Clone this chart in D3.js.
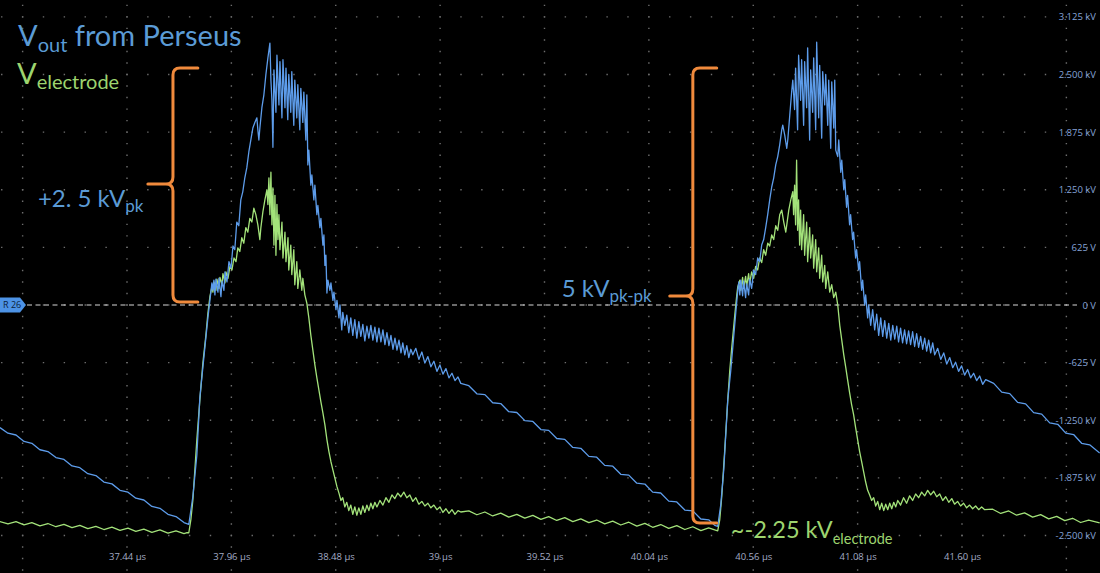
<!DOCTYPE html>
<html><head><meta charset="utf-8">
<script src="https://cdn.jsdelivr.net/npm/d3@7"></script>
<style>
html,body{margin:0;padding:0;background:#000;}
svg{display:block;}
</style></head><body>
<svg id="chart" width="1100" height="573"></svg>
<script>
// ---------- axis ticks ----------
const timeTicks = [37.44, 37.96, 38.48, 39, 39.52, 40.04, 40.56, 41.08, 41.60];
const timeTickLabels = ["37.44 µs","37.96 µs","38.48 µs","39 µs","39.52 µs","40.04 µs","40.56 µs","41.08 µs","41.60 µs"];
const gridTimes = [36.92, 37.44, 37.96, 38.48, 39, 39.52, 40.04, 40.56, 41.08, 41.60, 42.12];
const voltTicks = [3.125, 2.5, 1.875, 1.25, 0.625, 0, -0.625, -1.25, -1.875, -2.5];
const voltTickLabels = ["3.125 kV","2.500 kV","1.875 kV","1.250 kV","625 V","0 V","-625 V","-1.250 kV","-1.875 kV","-2.500 kV"];

// ---------- Vout from Perseus (time µs, kV) ----------
const voutDecay0 = [[36.807,-1.33],[36.847,-1.39],[36.887,-1.41],[36.927,-1.48],[36.966,-1.50],[37.006,-1.57],[37.046,-1.59],[37.086,-1.655],[37.126,-1.675],[37.166,-1.745],[37.205,-1.765],[37.245,-1.83],[37.285,-1.85],[37.325,-1.92],[37.365,-1.94],[37.405,-2.01],[37.445,-2.03],[37.484,-2.095],[37.524,-2.115],[37.564,-2.185],[37.604,-2.205],[37.644,-2.27],[37.684,-2.295],[37.724,-2.36]];
const voutPulse1 = [[37.748,-2.38],[37.768,-2.08],[37.788,-1.63],[37.803,-1.00],[37.828,-0.46],[37.843,-0.14],[37.853,0.05],[37.863,0.24],[37.868,0.16],[37.873,0.27],[37.878,0.11],[37.883,0.28],[37.893,0.14],[37.898,0.29],[37.908,0.09],[37.913,0.26],[37.923,0.16],[37.928,0.36],[37.938,0.25],[37.948,0.47],[37.958,0.40],[37.968,0.64],[37.977,0.60],[37.987,0.90],[37.997,0.86],[38.007,1.14],[38.017,1.23],[38.027,1.38],[38.037,1.49],[38.047,1.66],[38.057,1.79],[38.067,1.92],[38.077,1.98],[38.087,2.03],[38.092,1.90],[38.097,1.79],[38.102,1.92],[38.112,2.14],[38.122,2.28],[38.132,2.50],[38.142,2.68],[38.152,2.84],[38.157,2.44],[38.162,2.22],[38.167,1.71],[38.172,2.55],[38.182,2.09],[38.187,2.71],[38.197,2.17],[38.202,2.64],[38.212,2.03],[38.217,2.66],[38.227,2.14],[38.232,2.57],[38.241,2.01],[38.246,2.50],[38.256,2.09],[38.261,2.53],[38.271,1.95],[38.276,2.44],[38.286,2.03],[38.291,2.39],[38.301,1.90],[38.306,2.35],[38.316,1.98],[38.321,2.31],[38.331,1.79],[38.336,2.28],[38.341,1.52],[38.346,1.68],[38.356,1.30],[38.361,1.41],[38.371,1.14],[38.376,1.30],[38.386,0.98],[38.391,1.08],[38.401,0.84],[38.406,0.94],[38.416,0.65],[38.421,0.76],[38.426,0.43],[38.431,0.54],[38.436,0.13],[38.441,0.27],[38.451,0.16],[38.456,0.24],[38.466,0.05],[38.471,0.14],[38.481,-0.05],[38.486,0.05],[38.496,-0.14],[38.501,0.00],[38.510,-0.27],[38.515,-0.08],[38.525,-0.22],[38.535,-0.11],[38.545,-0.30],[38.555,-0.14],[38.565,-0.33],[38.575,-0.16],[38.585,-0.36],[38.595,-0.18],[38.605,-0.34],[38.615,-0.21],[38.625,-0.39],[38.635,-0.23],[38.645,-0.36],[38.655,-0.22],[38.665,-0.38],[38.675,-0.24],[38.685,-0.40],[38.695,-0.25],[38.705,-0.40],[38.715,-0.27],[38.725,-0.43],[38.735,-0.30],[38.745,-0.44],[38.755,-0.33],[38.765,-0.48],[38.775,-0.36],[38.785,-0.49],[38.795,-0.38],[38.805,-0.52],[38.814,-0.41],[38.824,-0.54],[38.834,-0.44],[38.844,-0.57],[38.854,-0.48],[38.864,-0.54],[38.879,-0.47],[38.894,-0.59],[38.909,-0.51],[38.924,-0.63],[38.939,-0.56],[38.954,-0.67],[38.969,-0.61],[38.984,-0.72],[38.999,-0.65],[39.014,-0.75],[39.029,-0.69],[39.044,-0.79],[39.059,-0.74],[39.074,-0.82],[39.089,-0.78],[39.103,-0.85]];
const voutDecay1 = [[39.143,-0.875],[39.183,-0.963],[39.223,-0.972],[39.262,-1.060],[39.302,-1.069],[39.342,-1.157],[39.382,-1.166],[39.422,-1.254],[39.462,-1.263],[39.502,-1.351],[39.541,-1.360],[39.581,-1.448],[39.621,-1.457],[39.661,-1.545],[39.701,-1.554],[39.741,-1.642],[39.780,-1.651],[39.820,-1.739],[39.860,-1.748],[39.900,-1.836],[39.940,-1.845],[39.980,-1.933],[40.020,-1.942],[40.059,-2.030],[40.099,-2.039],[40.139,-2.127],[40.179,-2.136],[40.219,-2.224],[40.259,-2.233],[40.299,-2.321],[40.338,-2.330]];
const voutPulse2 = [[40.368,-2.39],[40.383,-2.40],[40.398,-2.17],[40.413,-1.79],[40.433,-1.03],[40.448,-0.71],[40.458,-0.46],[40.473,-0.08],[40.483,0.16],[40.488,0.25],[40.493,0.11],[40.498,0.27],[40.507,0.10],[40.512,0.26],[40.522,0.08],[40.527,0.23],[40.537,0.11],[40.542,0.28],[40.552,0.18],[40.562,0.38],[40.572,0.33],[40.582,0.51],[40.592,0.47],[40.602,0.65],[40.612,0.71],[40.622,0.84],[40.632,0.98],[40.642,1.14],[40.652,1.28],[40.662,1.38],[40.672,1.52],[40.682,1.61],[40.692,1.74],[40.702,1.90],[40.707,1.95],[40.717,1.84],[40.727,1.70],[40.732,1.79],[40.742,2.06],[40.752,2.33],[40.757,2.44],[40.766,2.12],[40.771,2.57],[40.781,1.90],[40.786,2.71],[40.796,2.22],[40.801,2.66],[40.811,1.95],[40.816,2.64],[40.826,2.14],[40.831,2.79],[40.841,1.79],[40.846,2.55],[40.856,2.09],[40.861,2.68],[40.871,1.90],[40.876,2.85],[40.886,2.03],[40.891,2.60],[40.901,1.81],[40.906,2.53],[40.916,2.17],[40.921,2.50],[40.931,1.95],[40.936,2.44],[40.946,1.70],[40.951,2.42],[40.961,1.92],[40.966,2.44],[40.971,1.68],[40.981,1.61],[40.986,1.79],[40.996,1.44],[41.001,1.57],[41.011,1.25],[41.016,1.36],[41.025,1.06],[41.030,1.19],[41.040,0.87],[41.045,0.98],[41.055,0.71],[41.060,0.79],[41.070,0.51],[41.075,0.60],[41.085,0.38],[41.090,0.47],[41.100,0.16],[41.105,0.27],[41.115,0.00],[41.120,0.11],[41.130,-0.14],[41.135,0.00],[41.145,-0.22],[41.155,-0.05],[41.165,-0.27],[41.175,-0.10],[41.185,-0.33],[41.195,-0.14],[41.205,-0.34],[41.215,-0.17],[41.225,-0.36],[41.235,-0.20],[41.245,-0.38],[41.255,-0.22],[41.265,-0.37],[41.275,-0.23],[41.284,-0.40],[41.294,-0.25],[41.304,-0.41],[41.314,-0.27],[41.324,-0.42],[41.334,-0.28],[41.344,-0.43],[41.354,-0.29],[41.364,-0.45],[41.374,-0.31],[41.384,-0.46],[41.394,-0.34],[41.404,-0.48],[41.414,-0.36],[41.424,-0.50],[41.434,-0.38],[41.444,-0.52],[41.454,-0.41],[41.464,-0.54],[41.479,-0.47],[41.494,-0.59],[41.509,-0.52],[41.524,-0.64],[41.539,-0.57],[41.554,-0.68],[41.568,-0.62],[41.583,-0.72],[41.598,-0.66],[41.613,-0.76],[41.628,-0.70],[41.643,-0.79],[41.658,-0.74],[41.673,-0.82],[41.688,-0.77],[41.703,-0.86],[41.718,-0.81]];
const voutDecay2 = [[41.758,-0.850],[41.798,-0.945],[41.838,-0.961],[41.877,-1.056],[41.917,-1.072],[41.957,-1.167],[41.997,-1.183],[42.037,-1.278],[42.077,-1.294],[42.117,-1.389],[42.156,-1.405],[42.196,-1.500],[42.236,-1.516],[42.286,-1.605]];

// ---------- V electrode (time µs, kV) ----------
const velDecay0 = [[36.807,-2.35],[36.847,-2.375],[36.887,-2.35],[36.927,-2.385],[36.966,-2.36],[37.006,-2.395],[37.046,-2.37],[37.086,-2.405],[37.126,-2.38],[37.166,-2.415],[37.205,-2.39],[37.245,-2.425],[37.285,-2.40],[37.325,-2.435],[37.365,-2.41],[37.405,-2.445],[37.445,-2.42],[37.484,-2.455],[37.524,-2.43],[37.564,-2.465],[37.604,-2.44],[37.644,-2.475],[37.684,-2.45],[37.724,-2.48],[37.739,-2.47]];
const velPulse1 = [[37.748,-2.47],[37.758,-2.33],[37.768,-2.12],[37.788,-1.46],[37.803,-1.03],[37.818,-0.63],[37.833,-0.33],[37.843,-0.09],[37.853,0.09],[37.863,0.20],[37.868,0.14],[37.873,0.25],[37.883,0.16],[37.888,0.28],[37.898,0.18],[37.903,0.30],[37.913,0.22],[37.918,0.34],[37.928,0.24],[37.933,0.36],[37.943,0.29],[37.953,0.42],[37.963,0.38],[37.973,0.51],[37.983,0.47],[37.992,0.62],[38.002,0.58],[38.012,0.73],[38.022,0.67],[38.032,0.84],[38.042,0.79],[38.052,0.94],[38.062,0.90],[38.072,1.05],[38.082,0.98],[38.092,0.87],[38.102,0.71],[38.107,0.84],[38.117,1.01],[38.127,1.14],[38.137,1.25],[38.142,1.09],[38.147,1.38],[38.152,0.98],[38.157,1.44],[38.162,0.87],[38.167,1.27],[38.172,0.65],[38.177,1.19],[38.182,0.54],[38.187,1.09],[38.192,0.71],[38.197,0.98],[38.202,0.60],[38.212,0.90],[38.217,0.51],[38.227,0.79],[38.232,0.47],[38.242,0.73],[38.246,0.38],[38.256,0.65],[38.261,0.33],[38.271,0.60],[38.276,0.22],[38.286,0.47],[38.291,0.18],[38.301,0.38],[38.311,0.16],[38.316,0.29],[38.326,0.11],[38.336,0.02],[38.346,-0.14],[38.356,-0.33],[38.366,-0.49],[38.376,-0.65],[38.386,-0.79],[38.396,-0.92],[38.406,-1.05],[38.416,-1.17],[38.426,-1.30],[38.436,-1.46],[38.446,-1.59],[38.456,-1.70],[38.466,-1.79],[38.476,-1.88],[38.486,-1.97],[38.496,-2.04],[38.506,-2.12],[38.515,-2.09],[38.525,-2.19],[38.535,-2.14],[38.545,-2.23],[38.555,-2.17],[38.565,-2.27],[38.575,-2.19],[38.585,-2.28],[38.595,-2.20],[38.605,-2.27],[38.615,-2.18],[38.625,-2.25],[38.635,-2.17],[38.645,-2.23],[38.655,-2.15],[38.665,-2.21],[38.675,-2.14],[38.685,-2.19],[38.700,-2.12],[38.715,-2.17],[38.730,-2.09],[38.745,-2.14],[38.760,-2.06],[38.774,-2.10],[38.789,-2.04],[38.804,-2.08],[38.819,-2.03],[38.834,-2.09],[38.849,-2.06],[38.864,-2.13],[38.879,-2.09],[38.894,-2.16],[38.909,-2.13],[38.924,-2.18],[38.939,-2.15],[38.954,-2.20],[38.969,-2.17],[38.984,-2.22],[38.999,-2.19],[39.014,-2.25],[39.029,-2.21],[39.044,-2.26],[39.059,-2.22],[39.074,-2.27],[39.089,-2.23],[39.103,-2.245]];
const velDecay1 = [[39.143,-2.233],[39.183,-2.275],[39.223,-2.245],[39.262,-2.288],[39.302,-2.258],[39.342,-2.300],[39.382,-2.270],[39.422,-2.312],[39.462,-2.282],[39.502,-2.325],[39.541,-2.295],[39.581,-2.337],[39.621,-2.307],[39.661,-2.349],[39.701,-2.319],[39.741,-2.361],[39.780,-2.332],[39.820,-2.374],[39.860,-2.344],[39.900,-2.386],[39.940,-2.356],[39.980,-2.398],[40.020,-2.368],[40.059,-2.411],[40.099,-2.381],[40.139,-2.423],[40.179,-2.393],[40.219,-2.435],[40.259,-2.405],[40.299,-2.448],[40.338,-2.418],[40.368,-2.44]];
const velPulse2 = [[40.383,-2.45],[40.393,-2.33],[40.403,-2.08],[40.418,-1.57],[40.433,-1.03],[40.443,-0.71],[40.453,-0.46],[40.468,-0.11],[40.478,0.11],[40.483,0.20],[40.493,0.27],[40.498,0.16],[40.507,0.30],[40.512,0.18],[40.522,0.31],[40.527,0.20],[40.537,0.34],[40.542,0.23],[40.552,0.36],[40.562,0.29],[40.572,0.42],[40.582,0.38],[40.592,0.51],[40.602,0.46],[40.612,0.60],[40.622,0.54],[40.632,0.67],[40.642,0.64],[40.652,0.76],[40.662,0.71],[40.672,0.86],[40.682,0.81],[40.692,0.98],[40.702,1.03],[40.712,0.90],[40.722,0.79],[40.727,0.87],[40.737,1.03],[40.747,1.14],[40.757,1.23],[40.761,0.98],[40.766,1.30],[40.771,0.87],[40.776,1.57],[40.781,0.81],[40.786,1.14],[40.791,0.65],[40.796,1.03],[40.801,0.60],[40.811,0.98],[40.816,0.54],[40.826,0.90],[40.831,0.47],[40.841,0.84],[40.846,0.51],[40.856,0.76],[40.861,0.40],[40.871,0.71],[40.876,0.36],[40.886,0.62],[40.891,0.29],[40.901,0.54],[40.906,0.25],[40.916,0.43],[40.921,0.18],[40.931,0.36],[40.941,0.14],[40.951,0.22],[40.961,0.08],[40.971,0.14],[40.981,0.00],[40.991,-0.22],[41.001,-0.38],[41.011,-0.54],[41.021,-0.68],[41.030,-0.81],[41.040,-0.95],[41.050,-1.08],[41.060,-1.19],[41.070,-1.33],[41.080,-1.46],[41.090,-1.59],[41.100,-1.70],[41.110,-1.81],[41.120,-1.92],[41.130,-2.01],[41.140,-2.06],[41.150,-2.12],[41.160,-2.09],[41.170,-2.18],[41.180,-2.13],[41.190,-2.22],[41.200,-2.15],[41.210,-2.23],[41.220,-2.16],[41.230,-2.22],[41.240,-2.15],[41.250,-2.21],[41.260,-2.14],[41.270,-2.19],[41.280,-2.12],[41.294,-2.17],[41.309,-2.09],[41.324,-2.15],[41.339,-2.07],[41.354,-2.12],[41.369,-2.05],[41.384,-2.09],[41.399,-2.03],[41.414,-2.07],[41.429,-2.01],[41.444,-2.06],[41.459,-2.02],[41.474,-2.08],[41.489,-2.05],[41.504,-2.12],[41.519,-2.08],[41.534,-2.14],[41.549,-2.10],[41.563,-2.16],[41.578,-2.13],[41.593,-2.18],[41.608,-2.15],[41.623,-2.20],[41.638,-2.17],[41.653,-2.21],[41.668,-2.18],[41.683,-2.22],[41.698,-2.19],[41.713,-2.22]];
const velDecay2 = [[41.753,-2.215],[41.793,-2.261],[41.833,-2.234],[41.872,-2.280],[41.912,-2.254],[41.952,-2.300],[41.992,-2.274],[42.032,-2.319],[42.072,-2.293],[42.112,-2.339],[42.151,-2.313],[42.191,-2.359],[42.231,-2.332],[42.286,-2.364]];

// ---------- annotations (time µs, kV) ----------
const braces = [
  {tLine: 37.669, tEnd: 37.793, tTip: 37.544, vTop: 2.571, vMid: 1.312, vBottom: 0.033},
  {tLine: 40.259, tEnd: 40.378, tTip: 40.144, vTop: 2.571, vMid: 0.098, vBottom: -2.364}
];
const labels = [
  {t: 36.897, v: 2.809, main: "V", sub: "out", rest: " from Perseus", color: "#5b9bd5", size: 29, subSize: 20, drop: 6},
  {t: 36.892, v: 2.397, main: "V", sub: "electrode", rest: "", color: "#9dd46f", size: 29, subSize: 20, drop: 5},
  {t: 36.996, v: 1.063, main: "+2. 5 kV", sub: "pk", rest: "", color: "#5b9bd5", size: 24, subSize: 17, drop: 5},
  {t: 39.606, v: 0.087, main: "5 kV", sub: "pk-pk", rest: "", color: "#5b9bd5", size: 24, subSize: 17, drop: 5},
  {t: 40.448, v: -2.527, main: "~-2.25 kV", sub: "electrode", rest: "", color: "#9dd46f", size: 23.5, subSize: 14.5, drop: 6}
];

const W = 1100, H = 573;
const svg = d3.select("#chart");
svg.append("rect").attr("width", W).attr("height", H).attr("fill", "#000");

const x = d3.scaleLinear().domain([37.44, 41.60]).range([127, 962]);
const y = d3.scaleLinear().domain([-2.5, 3.125]).range([535.5, 16.9]);

// grid (dotted)
const xMinor = (x(37.96) - x(37.44)) / 5;
const yMinor = (y(0) - y(0.625)) / 5;
const grid = svg.append("g");
voltTicks.forEach(v => {
  const x0 = x(37.44) - Math.ceil(x(37.44) / xMinor) * xMinor - 0.7;
  grid.append("line").attr("x1", x0).attr("x2", W).attr("y1", y(v)).attr("y2", y(v))
    .attr("stroke", "#6e6e6e").attr("stroke-width", 1.4).attr("stroke-dasharray", `1.4 ${xMinor - 1.4}`);
});
gridTimes.forEach(t => {
  const y0 = y(3.125) - Math.ceil(y(3.125) / yMinor) * yMinor - 0.7;
  grid.append("line").attr("x1", x(t)).attr("x2", x(t)).attr("y1", y0).attr("y2", H)
    .attr("stroke", "#6e6e6e").attr("stroke-width", 1.4).attr("stroke-dasharray", `1.4 ${yMinor - 1.4}`);
});

// zero reference dashed line
svg.append("line").attr("x1", 27).attr("x2", 1077).attr("y1", y(0)).attr("y2", y(0))
  .attr("stroke", "#d8d8d8").attr("stroke-width", 1.2).attr("stroke-dasharray", "5 3.5");

// traces
const vout = [].concat(voutDecay0, voutPulse1, voutDecay1, voutPulse2, voutDecay2);
const velectrode = [].concat(velDecay0, velPulse1, velDecay1, velPulse2, velDecay2);
const line = d3.line().x(d => x(d[0])).y(d => y(d[1]));
svg.append("path").datum(velectrode).attr("d", line).attr("fill", "none")
  .attr("stroke", "#a3e27a").attr("stroke-width", 1.3).attr("stroke-linejoin", "round");
svg.append("path").datum(vout).attr("d", line).attr("fill", "none")
  .attr("stroke", "#5d9cea").attr("stroke-width", 1.3).attr("stroke-linejoin", "round");

// braces
const r = 7;
svg.selectAll("path.brace").data(braces).join("path").attr("class", "brace")
  .attr("d", b => {
    const xv = x(b.tLine), xe = x(b.tEnd), xt = x(b.tTip);
    const yt = y(b.vTop), ym = y(b.vMid), yb = y(b.vBottom);
    return `M${xe},${yt} H${xv + r} Q${xv},${yt} ${xv},${yt + r} V${ym - r} Q${xv},${ym} ${xv - r},${ym} H${xt}` +
           ` M${xv - r},${ym} Q${xv},${ym} ${xv},${ym + r} V${yb - r} Q${xv},${yb} ${xv + r},${yb} H${xe}`;
  })
  .attr("fill", "none").attr("stroke", "#f08a3c").attr("stroke-width", 3).attr("stroke-linecap", "round");

// annotation labels
labels.forEach(l => {
  const tx = svg.append("text").attr("x", x(l.t)).attr("y", y(l.v))
    .attr("font-family", "Lato, 'Open Sans', sans-serif").attr("fill", l.color);
  tx.append("tspan").attr("font-size", l.size).text(l.main);
  tx.append("tspan").attr("font-size", l.subSize).attr("dy", l.drop).text(l.sub);
  if (l.rest) tx.append("tspan").attr("font-size", l.size).attr("dy", -l.drop).text(l.rest);
});

// axes
const xAxis = svg.append("g").attr("transform", "translate(0,550)")
  .call(d3.axisBottom(x).tickValues(timeTicks).tickFormat((d, i) => timeTickLabels[i]).tickSize(0).tickPadding(3));
xAxis.select(".domain").remove();
xAxis.selectAll("text").attr("fill", "#a3abc4").attr("font-size", 9.5).attr("font-family", "'Open Sans', sans-serif");

const yAxis = svg.append("g").attr("transform", "translate(1096,0)")
  .call(d3.axisLeft(y).tickValues(voltTicks).tickFormat((d, i) => voltTickLabels[i]).tickSize(0).tickPadding(0));
yAxis.select(".domain").remove();
yAxis.selectAll("text").attr("fill", "#86a4d8").attr("font-size", 9.5).attr("font-family", "'Open Sans', sans-serif");

// R 26 reference marker
const ym0 = y(0);
svg.append("path").attr("d", `M0,${ym0 - 7.5} H20 L26,${ym0} L20,${ym0 + 7.5} H0 Z`).attr("fill", "#4d93e6");
svg.append("text").attr("x", 3).attr("y", ym0 + 3.2).attr("font-size", 9).attr("font-family", "'Open Sans', sans-serif")
  .attr("fill", "#0b1e3a").text("R 26");
</script>
</body></html>
